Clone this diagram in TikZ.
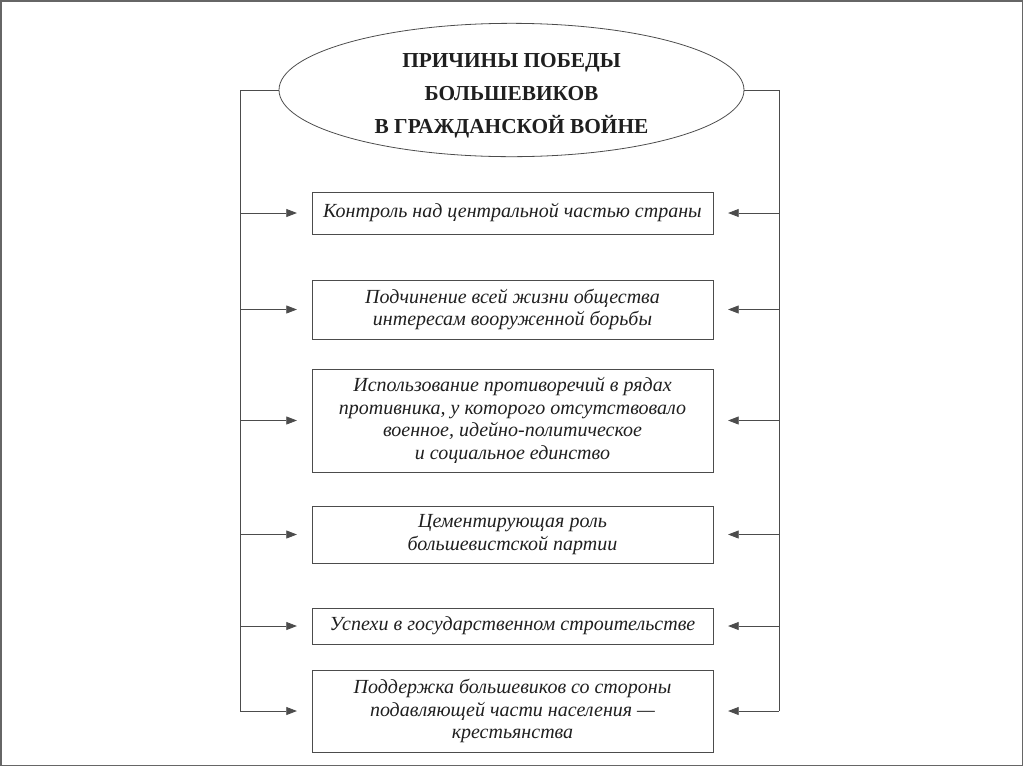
\documentclass[tikz,border=0pt]{standalone}
\usepackage{fontspec}
\setmainfont{Liberation Serif}
\usetikzlibrary{shapes.geometric,arrows.meta,calc}
\tikzset{
  box/.style={draw=black!70, line width=0.6pt, rectangle, minimum width=300.75pt, inner sep=0pt, align=center,
    font=\fontsize{15}{16.9}\selectfont\itshape, text=black!88},
  title/.style={draw=black!70, line width=0.6pt, ellipse, minimum width=348.75pt, minimum height=100pt, inner xsep=0pt, inner ysep=-8pt,
    align=center, font=\fontsize{16}{24.4}\selectfont\bfseries, text=black!88},
  line/.style={draw=black!70, line width=0.6pt},
  arr/.style={line, -{Triangle[length=8pt,width=6pt]}, shorten >=11pt},
}
\begin{document}
\begin{tikzpicture}[x=0.75pt,y=-0.75pt]
\useasboundingbox (0,0) rectangle (1024,768);
\draw[black!60, line width=1.2pt] (0.8,0.8) rectangle (1022.5,765.5);
\node[title] (t) at (511.5,90) {\raisebox{-3pt}[\height][\depth]{\begin{tabular}{@{}c@{}}ПРИЧИНЫ ПОБЕДЫ\\БОЛЬШЕВИКОВ\\В ГРАЖДАНСКОЙ ВОЙНЕ\end{tabular}}};
\node[box, minimum height=31.5pt] (b1) at (512.5,213) {Контроль над центральной частью страны};
\node[box, minimum height=44.25pt] (b2) at (512.5,309.5) {Подчинение всей жизни общества\\интересам вооруженной борьбы};
\node[box, minimum height=77.25pt] (b3) at (512.5,420.5) {Использование противоречий в рядах\\противника, у которого отсутствовало\\военное, идейно-политическое\\и социальное единство};
\node[box, minimum height=42.75pt] (b4) at (512.5,534.5) {Цементирующая роль\\большевистской партии};
\node[box, minimum height=27pt] (b5) at (512.5,626) {Успехи в государственном строительстве};
\node[box, minimum height=61.5pt] (b6) at (512.5,711) {Поддержка большевиков со стороны\\подавляющей части населения —\\крестьянства};
\coordinate (tl) at (240,90);
\coordinate (tr) at (779,90);
\draw[line] (t.west) -- (tl) -- (tl |- b6.west);
\draw[line] (t.east) -- (tr) -- (tr |- b6.east);
\foreach \b in {b1,b2,b3,b4,b5,b6} {
  \draw[arr] (tl |- \b.west) -- (\b.west);
  \draw[arr] (tr |- \b.east) -- (\b.east);
}
\end{tikzpicture}
\end{document}
